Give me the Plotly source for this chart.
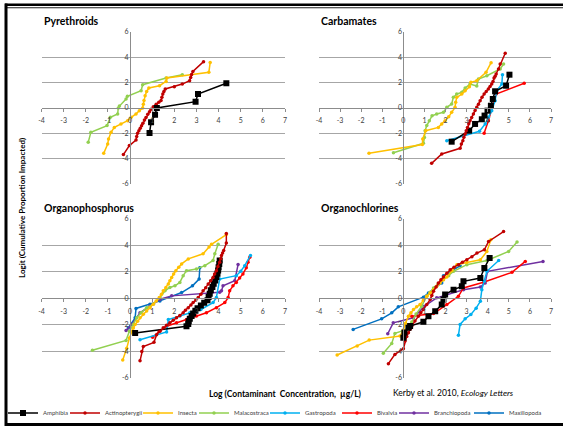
import plotly.graph_objects as go

W, H = 563, 426

CLASSES = ["Amphibia", "Actinopterygii", "Insecta", "Malacostraca",
           "Gastropoda", "Bivalvia", "Branchiopoda", "Maxillopoda"]
COLORS = ["#000000", "#C00000", "#FFC000", "#92D050",
          "#00B0F0", "#FF0000", "#7030A0", "#0070C0"]
PANEL_TITLES = ["Pyrethroids", "Carbamates", "Organophosphorus", "Organochlorines"]
X_TICKS = [-4, -3, -2, -1, 0, 1, 2, 3, 4, 5, 6, 7]
Y_TICKS = [-6, -4, -2, 0, 2, 4, 6]

# ---------------- Pyrethroids ----------------
pyr_amphibia_x = [0.88, 0.95, 1.13, 1.21, 2.96, 3.07, 4.35]
pyr_amphibia_y = [-1.97, -1.13, -0.53, 0.0, 0.5, 1.1, 1.95]
pyr_actino_x = [-0.3, -0.03, 0.27, 0.3, 0.34, 0.4, 0.46, 0.52, 0.58, 0.65, 0.72, 0.8, 0.88, 0.95,
                1.05, 1.18, 1.3, 1.4, 1.44, 1.48, 1.53, 1.59, 2.0, 2.36, 2.69, 2.74, 2.78, 2.84, 3.32]
pyr_actino_y = [-3.68, -2.97, -2.53, -2.25, -2.0, -1.8, -1.6, -1.4, -1.2, -0.95, -0.75, -0.5, -0.3, -0.1,
                0.1, 0.3, 0.45, 0.6, 0.85, 1.1, 1.3, 1.5, 1.68, 1.89, 2.16, 2.4, 2.65, 2.89, 3.66]
pyr_insecta_x = [-1.19, -1.01, -0.97, -0.86, -0.71, -0.41, -0.11, 0.05, 0.27, 0.42, 0.57, 0.6, 0.63,
                 0.68, 0.75, 0.85, 1.33, 1.63, 1.66, 3.56, 3.62]
pyr_insecta_y = [-3.58, -2.84, -2.45, -1.92, -1.53, -1.26, -1.0, -0.74, -0.47, -0.21, 0.0, 0.3, 0.6,
                 0.97, 1.3, 1.58, 1.76, 2.1, 2.37, 2.82, 3.6]
pyr_malaco_x = [-1.89, -1.77, -1.04, -0.89, -0.56, -0.53, -0.48, -0.18, -0.12, 0.5, 0.57, 1.63, 2.36]
pyr_malaco_y = [-2.71, -1.92, -1.39, -0.74, -0.47, 0.0, 0.15, 0.71, 0.92, 1.37, 1.84, 2.37, 2.63]

# ---------------- Carbamates ----------------
car_amphibia_x = [2.29, 3.12, 3.4, 3.72, 3.85, 3.99, 4.15, 4.24, 4.35, 4.87, 5.03]
car_amphibia_y = [-2.66, -1.79, -1.26, -0.89, -0.6, -0.21, 0.18, 0.71, 1.32, 1.76, 2.63]
car_actino_x = [1.34, 1.82, 2.69, 2.75, 2.82, 2.87, 2.93, 2.98, 3.04, 3.1, 3.16, 3.24, 3.32, 3.4, 3.48,
                3.56, 3.64, 3.73, 3.83, 3.93, 4.03, 4.11, 4.19, 4.25, 4.3, 4.35, 4.4, 4.51, 4.59, 4.83]
car_actino_y = [-4.37, -3.63, -3.18, -2.85, -2.58, -2.3, -2.05, -1.8, -1.53, -1.25, -1.0, -0.75, -0.47,
                -0.2, 0.05, 0.3, 0.58, 0.85, 1.1, 1.3, 1.5, 1.7, 1.89, 2.1, 2.37, 2.5, 2.68, 3.08, 3.47, 4.32]
car_insecta_x = [-1.63, 0.9, 0.92, 1.06, 1.66, 1.82, 1.98, 2.15, 2.29, 2.45, 2.48, 2.53, 2.77, 2.93,
                 3.13, 3.2, 3.48, 3.92, 4.16]
car_insecta_y = [-3.58, -2.89, -2.45, -1.79, -1.53, -1.26, -1.0, -0.7, -0.34, 0.05, 0.45, 0.84, 1.1,
                 1.37, 1.68, 2.03, 2.16, 2.82, 3.58]
car_malaco_x = [-0.47, 0.95, 1.0, 1.03, 1.11, 1.23, 1.36, 1.58, 1.9, 2.06, 2.29, 2.37, 2.53, 2.77, 2.93,
                3.16, 3.48, 3.56, 3.96, 4.59, 4.75]
car_malaco_y = [-3.53, -2.79, -2.32, -1.79, -1.39, -1.0, -0.61, -0.47, -0.34, 0.05, 0.32, 0.84, 1.1,
                1.24, 1.58, 1.89, 1.74, 2.29, 2.55, 3.08, 3.47]
car_gastro_x = [2.06, 3.61, 3.88, 4.03, 4.19, 4.35, 4.43, 4.67, 4.7]
car_gastro_y = [-2.58, -1.84, -1.26, -0.74, -0.21, 0.58, 1.37, 1.89, 2.63]
car_bivalvia_x = [3.83, 4.03, 4.4, 5.73]
car_bivalvia_y = [-2.0, -1.0, 1.1, 1.95]

# ---------------- Organophosphorus ----------------
op_amphibia_x = [0.23, 2.55, 2.63, 2.65, 2.7, 2.78, 2.85, 2.95, 3.05, 3.2, 3.35, 3.5, 3.55, 3.6, 3.65,
                 3.72, 3.78, 3.85, 3.9, 3.95, 3.98, 4.0, 4.03, 4.05]
op_amphibia_y = [-2.63, -2.12, -1.95, -1.75, -1.55, -1.35, -1.15, -0.95, -0.75, -0.55, -0.35, -0.15,
                 0.1, 0.35, 0.6, 0.85, 1.1, 1.35, 1.6, 1.85, 2.1, 2.35, 2.6, 2.86]
op_actino_x = [0.45, 0.53, 0.6, 1.08, 1.2, 1.35, 1.5, 1.65, 1.8, 1.95, 2.1, 2.25, 2.4, 2.5, 2.63, 2.75,
               2.85, 2.97, 3.08, 3.2, 3.3, 3.42, 3.53, 3.64, 3.75, 3.82, 3.9, 3.97, 4.05, 4.1, 4.13,
               4.18, 4.23, 4.35, 4.35]
op_actino_y = [-4.74, -4.03, -3.65, -3.34, -2.76, -2.5, -2.24, -2.05, -1.86, -1.67, -1.48, -1.3, -1.1,
               -0.9, -0.71, -0.52, -0.33, -0.14, 0.05, 0.3, 0.56, 0.8, 1.07, 1.32, 1.58, 1.84, 2.09,
               2.4, 2.73, 3.0, 3.24, 3.42, 3.62, 4.18, 4.9]
op_insecta_x = [-0.33, -0.15, -0.03, 0.08, 0.15, 0.23, 0.34, 0.45, 0.6, 0.75, 0.9, 1.05, 1.18, 1.32,
                1.42, 1.5, 1.62, 1.73, 1.8, 1.88, 1.97, 2.07, 2.2, 2.33, 2.63, 3.3, 3.57, 3.68, 4.35]
op_insecta_y = [-4.67, -3.78, -3.01, -2.5, -2.25, -1.99, -1.75, -1.48, -1.22, -0.97, -0.72, -0.46, -0.2,
                0.05, 0.3, 0.56, 0.82, 1.07, 1.32, 1.58, 1.84, 2.09, 2.35, 2.6, 2.98, 3.37, 3.88, 4.08, 4.82]
op_malaco_x = [-1.7, -0.18, -0.03, 0.15, 0.3, 0.5, 0.75, 1.05, 1.35, 1.58, 1.8, 2.03, 2.25, 2.4, 2.55,
               3.0, 3.38, 3.75, 3.83, 3.98]
op_malaco_y = [-3.93, -3.19, -2.5, -1.99, -1.48, -1.1, -0.71, -0.46, 0.05, 0.56, 0.82, 0.94, 1.2, 1.71,
               2.09, 2.22, 2.47, 2.86, 3.37, 4.08]
op_gastro_x = [0.45, 1.65, 1.73, 2.25, 2.7, 3.2, 3.75, 3.9, 4.05, 4.8, 5.0, 5.18, 5.44]
op_gastro_y = [-3.14, -2.55, -1.61, -1.35, -1.1, -0.85, -0.33, 0.05, 1.45, 1.71, 2.05, 2.47, 3.24]
op_bivalvia_x = [1.02, 1.32, 1.65, 2.1, 2.55, 3.0, 3.45, 3.9, 4.28, 4.43, 4.5, 4.65, 4.8, 4.95, 5.1,
                 5.25, 5.33, 5.41]
op_bivalvia_y = [-2.96, -2.5, -2.12, -1.86, -1.61, -1.35, -1.1, -0.71, -0.33, 0.05, 0.56, 0.94, 1.2,
                 1.53, 1.84, 2.3, 2.73, 3.11]
op_branchio_x = [-0.18, 0.08, 0.45, 0.9, 1.35, 1.88, 4.05, 4.13, 4.2, 4.73, 4.88]
op_branchio_y = [-2.45, -1.99, -1.1, -0.59, -0.08, 0.18, 0.45, 0.56, 0.94, 1.33, 2.55]
op_maxillo_x = [-0.08, 0.23, 0.27, 0.9, 1.35, 2.33, 2.82, 3.12, 3.15]
op_maxillo_y = [-2.25, -1.48, -0.77, -0.46, -0.2, 0.43, 0.94, 1.45, 2.3]

# ---------------- Organochlorines ----------------
oc_amphibia_x = [0.0, 0.05, 0.24, 0.32, 0.95, 1.19, 1.51, 1.82, 1.9, 1.98, 2.38, 2.77, 2.85, 3.65, 3.84, 4.09]
oc_amphibia_y = [-2.99, -2.6, -2.23, -2.11, -1.78, -1.36, -0.98, -0.48, -0.1, 0.28, 0.65, 0.9, 1.28,
                 1.53, 2.29, 3.04]
oc_actino_x = [-0.71, -0.4, 0.0, 0.08, 0.16, 0.24, 0.32, 0.4, 0.55, 0.71, 0.83, 0.95, 1.11, 1.27, 1.35,
               1.43, 1.55, 1.66, 1.78, 1.9, 2.06, 2.22, 2.4, 2.61, 2.8, 3.01, 3.25, 3.49, 3.84, 4.04, 4.75]
oc_actino_y = [-4.95, -4.25, -3.82, -3.24, -2.9, -2.61, -2.35, -2.11, -1.73, -1.36, -1.1, -0.85, -0.48,
               -0.1, 0.2, 0.53, 0.85, 1.16, 1.4, 1.61, 1.9, 2.16, 2.35, 2.54, 2.72, 2.91, 3.15, 3.42,
               3.67, 4.3, 5.05]
oc_insecta_x = [-3.14, -2.19, -1.62, -0.16, 0.0, 0.1, 0.24, 0.36, 0.48, 0.63, 0.79, 0.95, 1.11, 1.27,
                1.43, 1.58, 1.74, 1.9, 2.06, 2.3, 2.54, 3.01, 3.65, 3.96, 4.15]
oc_insecta_y = [-4.3, -3.62, -3.17, -2.86, -2.4, -1.9, -1.36, -1.1, -0.85, -0.65, -0.48, -0.15, 0.15,
                0.4, 0.65, 0.9, 1.16, 1.4, 1.61, 2.1, 2.54, 2.71, 2.91, 3.54, 4.42]
oc_malaco_x = [-0.95, -0.55, -0.4, 0.16, 0.4, 0.6, 0.87, 1.11, 1.27, 1.43, 1.65, 1.9, 2.15, 2.38, 3.01,
               3.96, 4.99, 5.39]
oc_malaco_y = [-4.17, -3.42, -2.66, -2.36, -1.8, -1.2, -0.6, 0.15, 0.45, 0.78, 1.1, 1.41, 1.7, 2.04,
               2.54, 2.86, 3.54, 4.25]
oc_gastro_x = [2.61, 2.69, 2.93, 3.2, 3.45, 3.65, 3.72, 3.84, 3.96, 4.52]
oc_gastro_y = [-2.81, -1.98, -1.56, -1.23, -0.75, -0.23, 0.65, 1.28, 2.04, 2.86]
oc_bivalvia_x = [0.4, 1.43, 2.06, 2.61, 2.85, 3.8, 5.15, 5.78]
oc_bivalvia_y = [-1.36, -1.16, -0.48, 0.15, 0.78, 1.21, 1.96, 2.79]
oc_branchio_x = [-0.74, -0.48, 0.48, 1.0, 1.58, 2.85, 3.65, 3.88, 3.99, 6.62]
oc_branchio_y = [-2.69, -1.86, -1.48, -0.6, 0.03, 0.65, 0.85, 1.16, 2.04, 2.79]
oc_maxillo_x = [-2.38, -1.03, -0.55, -0.24, 0.95, 1.19, 1.82, 1.9, 2.69]
oc_maxillo_y = [-2.36, -1.56, -1.1, -0.65, 0.08, 0.4, 1.16, 1.71, 2.46]

# (panel, class index, x, y) -- drawing order per panel
SERIES = [
    (0, 3, pyr_malaco_x, pyr_malaco_y), (0, 2, pyr_insecta_x, pyr_insecta_y),
    (0, 1, pyr_actino_x, pyr_actino_y), (0, 0, pyr_amphibia_x, pyr_amphibia_y),
    (1, 5, car_bivalvia_x, car_bivalvia_y), (1, 4, car_gastro_x, car_gastro_y),
    (1, 3, car_malaco_x, car_malaco_y), (1, 2, car_insecta_x, car_insecta_y),
    (1, 0, car_amphibia_x, car_amphibia_y), (1, 1, car_actino_x, car_actino_y),
    (2, 7, op_maxillo_x, op_maxillo_y), (2, 6, op_branchio_x, op_branchio_y),
    (2, 5, op_bivalvia_x, op_bivalvia_y), (2, 4, op_gastro_x, op_gastro_y),
    (2, 3, op_malaco_x, op_malaco_y), (2, 2, op_insecta_x, op_insecta_y),
    (2, 0, op_amphibia_x, op_amphibia_y), (2, 1, op_actino_x, op_actino_y),
    (3, 7, oc_maxillo_x, oc_maxillo_y), (3, 6, oc_branchio_x, oc_branchio_y),
    (3, 5, oc_bivalvia_x, oc_bivalvia_y), (3, 4, oc_gastro_x, oc_gastro_y),
    (3, 3, oc_malaco_x, oc_malaco_y), (3, 2, oc_insecta_x, oc_insecta_y),
    (3, 1, oc_actino_x, oc_actino_y), (3, 0, oc_amphibia_x, oc_amphibia_y),
]

FONT = "Lato, 'Open Sans', sans-serif"
# panel boxes in pixels: left, right, top, bottom
BOXES = [(41.5, 285, 32, 184), (319, 551, 32, 184),
         (41.5, 285, 219, 377.5), (319, 551, 219, 377.5)]
# pixel x where each legend entry's text starts
LEGEND_TEXT_X = [43, 105, 178, 234, 305, 377, 434, 509]

fig = go.Figure()
shown = set()
for panel, ci, xs, ys in SERIES:
    sfx = "" if panel == 0 else str(panel + 1)
    is_amph = ci == 0
    first = ci not in shown
    shown.add(ci)
    fig.add_trace(go.Scatter(
        x=xs, y=ys, mode="lines+markers", name=CLASSES[ci],
        xaxis="x" + sfx, yaxis="y" + sfx,
        line=dict(color=COLORS[ci], width=1.5),
        marker=dict(color=COLORS[ci], size=6 if is_amph else 3.5,
                    symbol="square" if is_amph else "circle"),
        legendgroup=CLASSES[ci], showlegend=first,
        legend="legend" if ci == 0 else "legend" + str(ci + 1),
    ))

layout = dict(width=W, height=H, paper_bgcolor="white", plot_bgcolor="white",
              margin=dict(l=0, r=0, t=0, b=0, autoexpand=False),
              font=dict(family=FONT, color="#404040", size=7))

annotations = []
for i, (l, r, t, b) in enumerate(BOXES):
    sfx = "" if i == 0 else str(i + 1)
    xd = [l / W, r / W]
    yd = [1 - b / H, 1 - t / H]
    xzero = (l + (0 - (-4)) / 11 * (r - l)) / W
    yzero = (yd[0] + yd[1]) / 2
    layout["xaxis" + sfx] = dict(
        domain=xd, range=[-4, 7], anchor="free", position=yzero,
        showgrid=False, zeroline=False, showline=True, linecolor="#8C8C8C", linewidth=1,
        ticks="outside", ticklen=3, tickcolor="#8C8C8C",
        tickvals=X_TICKS, ticktext=[str(v) for v in X_TICKS],
        tickfont=dict(size=7, color="#404040", family=FONT), ticklabelstandoff=3,
        fixedrange=True)
    layout["yaxis" + sfx] = dict(
        domain=yd, range=[-6, 6], anchor="free", position=xzero,
        showgrid=True, gridcolor="#A6A6A6", gridwidth=1, zeroline=False,
        showline=True, linecolor="#8C8C8C", linewidth=1, ticks="",
        tickvals=Y_TICKS, ticktext=[str(v) for v in Y_TICKS],
        tickfont=dict(size=7, color="#404040", family=FONT), fixedrange=True)
    annotations.append(dict(
        text="<b>" + PANEL_TITLES[i] + "</b>", xref="paper", yref="paper",
        x=l / W, y=1 - (t - 11) / H, xanchor="left", yanchor="middle", showarrow=False,
        font=dict(size=10.5, color="#000000", family=FONT)))

annotations += [
    dict(text="<b>Logit (Cumulative Proportion Impacted)</b>", xref="paper", yref="paper",
         x=22 / W, y=1 - 208 / H, textangle=-90, showarrow=False,
         xanchor="center", yanchor="middle", font=dict(size=8, color="#000000", family=FONT)),
    dict(text="<b>Log (Contaminant  Concentration,  µg/L)</b>", xref="paper", yref="paper",
         x=285.5 / W, y=1 - 393.5 / H, showarrow=False, xanchor="center", yanchor="middle",
         font=dict(size=8.5, color="#000000", family=FONT)),
    dict(text="Kerby et al. 2010, <i>Ecology Letters</i>", xref="paper", yref="paper",
         x=391 / W, y=1 - 393 / H, showarrow=False, xanchor="left", yanchor="middle",
         font=dict(size=8.5, color="#000000", family=FONT)),
]
layout["annotations"] = annotations

for ci, tx in enumerate(LEGEND_TEXT_X):
    key = "legend" if ci == 0 else "legend" + str(ci + 1)
    layout[key] = dict(orientation="h", x=(tx - 40) / W, y=1 - 413 / H,
                       xanchor="left", yanchor="middle", bgcolor="rgba(0,0,0,0)",
                       borderwidth=0, itemwidth=30,
                       font=dict(size=6, color="#404040", family=FONT))

# outer frame of the picture (left bar, top double rule, bottom bar) as filled rectangles
layout["shapes"] = [
    dict(type="rect", xref="paper", yref="paper", x0=5 / W, x1=1, y0=1 - 6 / H, y1=1 - 3.6 / H,
         fillcolor="#000000", line=dict(width=0)),
    dict(type="rect", xref="paper", yref="paper", x0=5 / W, x1=1, y0=1 - 8.3 / H, y1=1 - 7.3 / H,
         fillcolor="#222222", line=dict(width=0)),
    dict(type="rect", xref="paper", yref="paper", x0=4.5 / W, x1=7.5 / W, y0=1 - 426 / H, y1=1 - 3.6 / H,
         fillcolor="#000000", line=dict(width=0)),
    dict(type="rect", xref="paper", yref="paper", x0=5 / W, x1=1, y0=1 - 426 / H, y1=1 - 423 / H,
         fillcolor="#000000", line=dict(width=0)),
]

fig.update_layout(**layout)

POST = (
    "var s=document.createElement('style');"
    "s.textContent='html,body{margin:0!important;padding:0;overflow:hidden!important;"
    "scrollbar-width:none;}::-webkit-scrollbar{display:none;width:0;height:0;}';"
    "document.head.appendChild(s);window.scrollTo(0,0);"
)
fig.write_html(
    "out.html",
    config={"displayModeBar": False, "staticPlot": True},
    post_script=POST,
)
